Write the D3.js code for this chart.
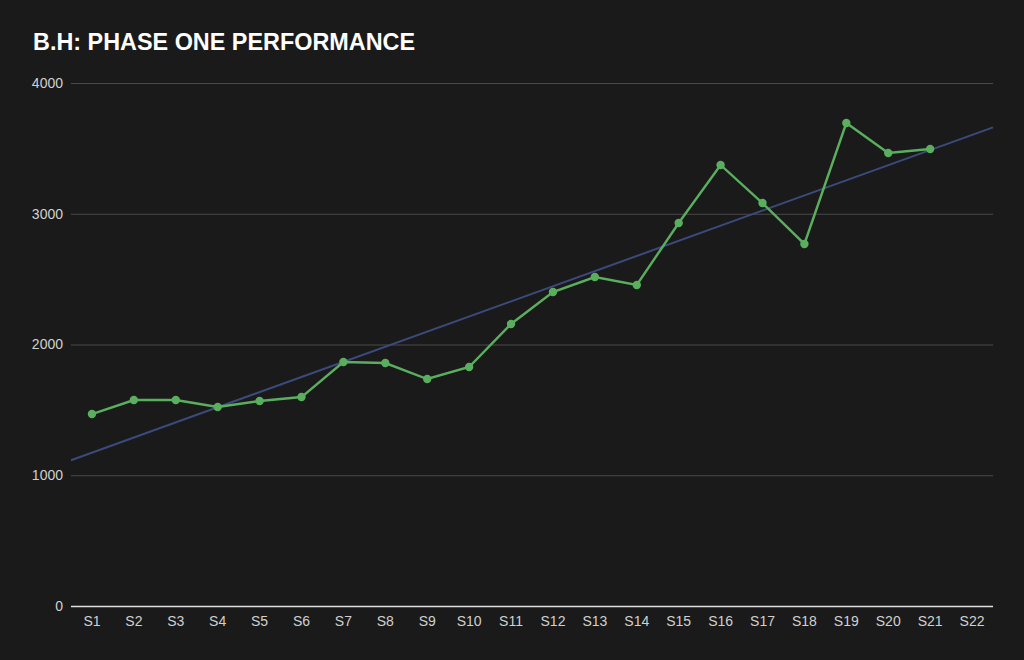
<!DOCTYPE html>
<html><head><meta charset="utf-8">
<script src="https://cdn.jsdelivr.net/npm/d3@7"></script>
<style>html,body{margin:0;padding:0;background:#1a1a1a;}svg{display:block;}</style>
</head><body>
<svg id="chart" width="1024" height="660"></svg>
<script>
const title = "B.H: PHASE ONE PERFORMANCE";
const categories = ["S1","S2","S3","S4","S5","S6","S7","S8","S9","S10","S11","S12","S13","S14","S15","S16","S17","S18","S19","S20","S21","S22"];
const values = [1468,1575,1575,1522,1568,1598,1866,1858,1736,1828,2157,2401,2516,2455,2929,3373,3082,2769,3694,3465,3495,null];
const yTicks = [0,1000,2000,3000,4000];

const W = 1024, H = 660;
const margin = {left: 71, right: 31, top: 83, bottom: 54};
const svg = d3.select("#chart");
svg.append("rect").attr("width",W).attr("height",H).attr("fill","#1a1a1a");

const x = d3.scaleBand().domain(categories).range([margin.left, W - margin.right]).padding(0);
const y = d3.scaleLinear().domain([0,4000]).range([H - margin.bottom, margin.top]);
const cx = c => x(c) + x.bandwidth()/2;

svg.append("text").attr("x",33).attr("y",50).text(title)
  .attr("fill","#ffffff").attr("font-family","Liberation Sans, Arial, sans-serif")
  .attr("font-weight","bold").attr("font-size",23.4);

// grid
const yAxis = d3.axisLeft(y).tickValues(yTicks).tickSize(-(W - margin.left - margin.right)).tickPadding(8).tickFormat(d3.format("d"));
const gy = svg.append("g").attr("transform",`translate(${margin.left},0)`).call(yAxis);
gy.select(".domain").remove();
gy.selectAll(".tick line").attr("stroke", d => d === 0 ? "#e0e0e0" : "#4a4a4a").attr("stroke-width", d => d===0?1.3:1);
gy.selectAll(".tick text").attr("fill","#d0d0d0").attr("font-size",14).attr("font-family","Liberation Sans, Arial, sans-serif");

const xAxis = d3.axisBottom(x).tickSize(0).tickPadding(10);
const gx = svg.append("g").attr("transform",`translate(0,${H - margin.bottom})`).call(xAxis);
gx.select(".domain").remove();
gx.selectAll(".tick text").attr("fill","#d0d0d0").attr("font-size",14).attr("font-family","Liberation Sans, Arial, sans-serif");

// trendline (least squares over the series)
const pts = values.map((v,i)=>({i:i+1,v})).filter(d=>d.v!=null);
const mx = d3.mean(pts,d=>d.i), my = d3.mean(pts,d=>d.v);
const slope = d3.sum(pts,d=>(d.i-mx)*(d.v-my)) / d3.sum(pts,d=>(d.i-mx)**2);
const icpt = my - slope*mx;
const xi = d3.scaleLinear().domain([1, categories.length]).range([cx(categories[0]), cx(categories[categories.length-1])]);
const i0 = xi.invert(margin.left), i1 = xi.invert(W - margin.right);
svg.append("line")
  .attr("x1", xi(i0)).attr("y1", y(icpt + slope*i0))
  .attr("x2", xi(i1)).attr("y2", y(icpt + slope*i1))
  .attr("stroke","#3b4a7c").attr("stroke-width",2);

const data = categories.map((c,i)=>({c,v:values[i]})).filter(d=>d.v!=null);
svg.append("path").datum(data)
  .attr("d", d3.line().x(d=>cx(d.c)).y(d=>y(d.v)))
  .attr("fill","none").attr("stroke","#5aaf5e").attr("stroke-width",2.4);
svg.selectAll("circle.pt").data(data).join("circle").attr("class","pt")
  .attr("cx",d=>cx(d.c)).attr("cy",d=>y(d.v)).attr("r",4.2).attr("fill","#5aaf5e");
</script>
</body></html>
